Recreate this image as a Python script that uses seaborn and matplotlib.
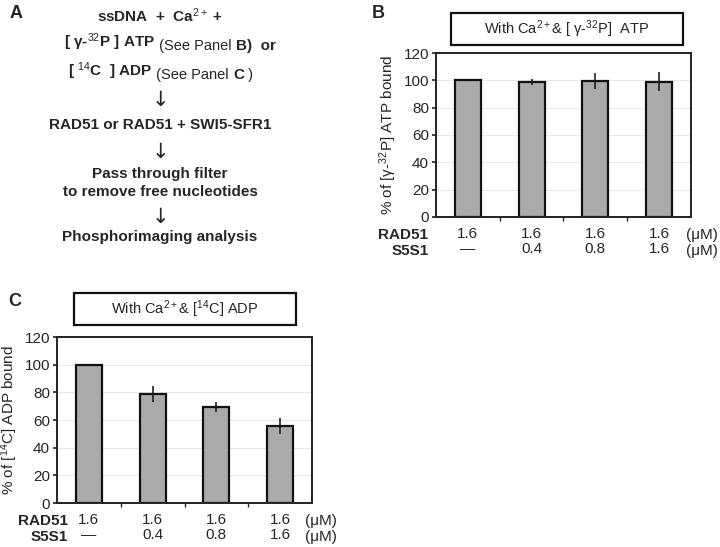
import numpy as np
import pandas as pd
import matplotlib
matplotlib.use("Agg")
import matplotlib.pyplot as plt
from matplotlib.patches import Rectangle
import seaborn as sns

# ---------------- data ----------------
conditions = ["c1", "c2", "c3", "c4"]
rad51_labels = ["1.6", "1.6", "1.6", "1.6"]
s5s1_labels = ["\u2014", "0.4", "0.8", "1.6"]

atp_bound = [100, 98.5, 99.5, 99]
atp_err = [0, 2.2, 5.8, 6.8]

adp_bound = [100, 78.8, 69.7, 55.7]
adp_err = [0, 5.8, 3.6, 5.5]

yticks = [0, 20, 40, 60, 80, 100, 120]

# ---------------- style ----------------
sns.set_theme(style="white")
plt.rcParams["font.family"] = ["Liberation Sans", "DejaVu Sans"]
plt.rcParams["mathtext.fontset"] = "custom"
plt.rcParams["mathtext.rm"] = "Liberation Sans"
plt.rcParams["mathtext.it"] = "Liberation Sans"
plt.rcParams["mathtext.bf"] = "Liberation Sans:bold"

fig = plt.figure(figsize=(7.2, 5.47), dpi=100)

BAR_COLOR = "#aaaaaa"
FS = 11


def draw_panel(ax, values, errs, ylabel, lab_right, mu_x):
    df = pd.DataFrame({"cond": conditions, "val": values})
    sns.barplot(data=df, x="cond", y="val", ax=ax, color=BAR_COLOR,
                edgecolor="#111111", linewidth=1.6, width=0.41,
                saturation=1, errorbar=None)
    xs = np.arange(len(values))
    e = np.array(errs, dtype=float)
    mask = e > 0
    ax.errorbar(xs[mask], np.array(values)[mask], yerr=e[mask], fmt="none",
                ecolor="#111111", elinewidth=1.1, capsize=0)
    ax.set_xlim(-0.5, len(values) - 0.5)
    ax.set_ylim(0, 120)
    ax.set_yticks(yticks)
    ax.set_yticklabels([str(t) for t in yticks], fontsize=FS)
    ax.yaxis.grid(True, color="#e8e8e8", linewidth=0.8)
    ax.set_axisbelow(True)
    for s in ax.spines.values():
        s.set_color("#222222")
        s.set_linewidth(1.4)
        s.set_visible(True)
    ax.tick_params(axis="y", which="major", direction="out", length=3,
                   width=1.2, color="#222222", pad=2, left=True)
    ax.set_xticks(xs)
    ax.set_xticklabels([f"{a}\n{b}" for a, b in zip(rad51_labels, s5s1_labels)],
                       fontsize=FS, linespacing=1.1)
    ax.tick_params(axis="x", which="major", length=0, pad=7)
    ax.set_xticks(xs[:-1] + 0.5, minor=True)
    ax.tick_params(axis="x", which="minor", direction="out", length=3,
                   width=1.0, color="#222222", bottom=True)
    ax.set_xlabel("")
    ax.set_ylabel(ylabel, fontsize=FS, labelpad=3)
    ax.text(lab_right, -0.11, "RAD51", transform=ax.transAxes, ha="right",
            va="center", fontsize=FS, fontweight="bold")
    ax.text(lab_right, -0.205, "S5S1", transform=ax.transAxes, ha="right",
            va="center", fontsize=FS, fontweight="bold")
    ax.text(mu_x, -0.11, "(\u03bcM)", transform=ax.transAxes, ha="center",
            va="center", fontsize=FS)
    ax.text(mu_x, -0.205, "(\u03bcM)", transform=ax.transAxes, ha="center",
            va="center", fontsize=FS)


# Panel B
axB = fig.add_axes([0.6056, 0.6033, 0.354, 0.2998])
draw_panel(axB, atp_bound, atp_err,
           "% of [\u03b3-$^{32}$P] ATP bound", -0.03, 1.045)

# Panel C
axC = fig.add_axes([0.0792, 0.0804, 0.3542, 0.3035])
draw_panel(axC, adp_bound, adp_err,
           "% of [$^{14}$C] ADP bound", 0.043, 1.033)

# Title boxes
fig.patches.append(Rectangle((0.6264, 0.9177), 0.3222, 0.0585,
                             transform=fig.transFigure, fill=False,
                             edgecolor="#111111", linewidth=1.6))
fig.text(0.6264 + 0.3222 / 2, 0.9177 + 0.0585 / 2,
         "With Ca$^{2+}$& [ \u03b3-$^{32}$P]  ATP", ha="center", va="center",
         fontsize=10.5)
fig.patches.append(Rectangle((0.1028, 0.4059), 0.3083, 0.0585,
                             transform=fig.transFigure, fill=False,
                             edgecolor="#111111", linewidth=1.6))
fig.text(0.1028 + 0.3083 / 2, 0.4059 + 0.0585 / 2,
         "With Ca$^{2+}$& [$^{14}$C] ADP", ha="center", va="center",
         fontsize=10.5)

# Panel letters
fig.text(10 / 720, 1 - 13 / 547, "A", fontsize=13, fontweight="bold",
         ha="left", va="center")
fig.text(372 / 720, 1 - 13 / 547, "B", fontsize=13, fontweight="bold",
         ha="left", va="center")
fig.text(8 / 720, 1 - 302 / 547, "C", fontsize=13, fontweight="bold",
         ha="left", va="center")

# Panel A scheme
cx = 160 / 720


def fy(py):
    return 1 - py / 547


fig.text(cx, fy(16), "ssDNA  +  Ca$^{2+}$ +", ha="center", va="center",
         fontsize=FS, fontweight="bold")

l2 = fig.text(64 / 720, fy(47), "[ \u03b3-$^{32}$P ] ATP", ha="left",
              va="baseline", fontsize=FS, fontweight="bold")
a = axB.annotate(" (See Panel ", xy=(1, 0), xycoords=l2,
                 ha="left", va="bottom", fontsize=FS - 0.5,
                 annotation_clip=False)
b = axB.annotate("B", xy=(1, 0), xycoords=a, ha="left", va="bottom",
                 fontsize=FS, fontweight="bold", annotation_clip=False)
c = axB.annotate(")  or", xy=(1, 0), xycoords=b, ha="left", va="bottom",
                 fontsize=FS, fontweight="bold", annotation_clip=False)

l3 = fig.text(68 / 720, fy(76), "[ $^{14}$C  ] ADP", ha="left",
              va="baseline", fontsize=FS, fontweight="bold")
d = axB.annotate(" (See Panel ", xy=(1, 0), xycoords=l3,
                 ha="left", va="bottom", fontsize=FS - 0.5,
                 annotation_clip=False)
e_ = axB.annotate("C", xy=(1, 0), xycoords=d, ha="left", va="bottom",
                  fontsize=FS, fontweight="bold", annotation_clip=False)
f_ = axB.annotate(" )", xy=(1, 0), xycoords=e_, ha="left", va="bottom",
                  fontsize=FS - 0.5, annotation_clip=False)

for py in (100, 152, 217):
    fig.text(cx, fy(py), "\u2193", ha="center", va="center", fontsize=15,
             family=["DejaVu Sans"])

fig.text(cx, fy(125), "RAD51 or RAD51 + SWI5-SFR1", ha="center",
         va="center", fontsize=FS, fontweight="bold")
fig.text(cx, fy(174), "Pass through filter", ha="center", va="center",
         fontsize=FS, fontweight="bold")
fig.text(cx, fy(192), "to remove free nucleotides", ha="center",
         va="center", fontsize=FS, fontweight="bold")
fig.text(cx, fy(237), "Phosphorimaging analysis", ha="center", va="center",
         fontsize=FS, fontweight="bold")

fig.savefig("out.png", dpi=100)
